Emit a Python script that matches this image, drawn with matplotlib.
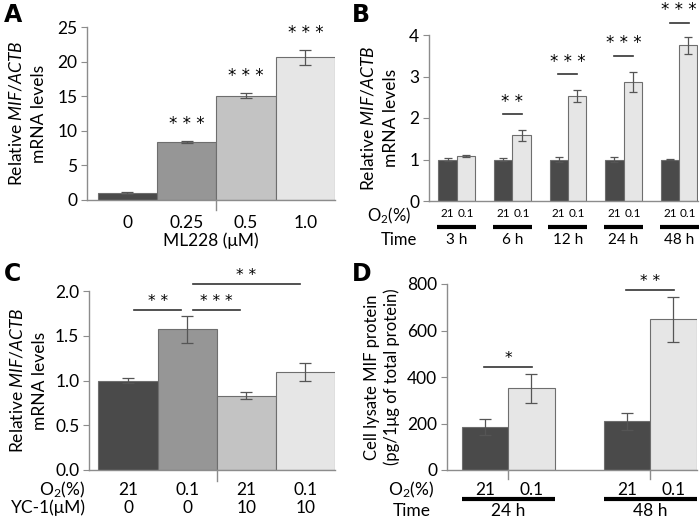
import matplotlib
matplotlib.use("Agg")
import matplotlib.pyplot as plt
import matplotlib.transforms as mtransforms
from matplotlib.lines import Line2D

plt.rcParams['font.family'] = ['Lato', 'DejaVu Sans']
plt.rcParams['mathtext.fontset'] = 'custom'
plt.rcParams['mathtext.rm'] = 'Lato'
plt.rcParams['mathtext.it'] = 'Lato:italic'
plt.rcParams['mathtext.bf'] = 'Lato:bold'

# ---------------- data ----------------
a_labels = ['0', '0.25', '0.5', '1.0']
a_values = [1.0, 8.4, 15.1, 20.6]
a_errors = [0.1, 0.12, 0.3, 1.1]
a_stars = ['', '***', '***', '***']

b_times = ['3 h', '6 h', '12 h', '24 h', '48 h']
b_normoxia = [1.0, 1.0, 1.0, 1.0, 1.0]
b_normoxia_err = [0.03, 0.03, 0.05, 0.05, 0.02]
b_hypoxia = [1.08, 1.58, 2.53, 2.87, 3.75]
b_hypoxia_err = [0.03, 0.14, 0.15, 0.25, 0.2]
b_stars = ['', '**', '***', '***', '***']
b_sig_y = [None, 2.1, 3.05, 3.5, 4.3]

c_o2 = ['21', '0.1', '21', '0.1']
c_yc1 = ['0', '0', '10', '10']
c_values = [1.0, 1.57, 0.83, 1.1]
c_errors = [0.03, 0.15, 0.04, 0.1]

d_times = ['24 h', '48 h']
d_normoxia = [185, 210]
d_normoxia_err = [35, 36]
d_hypoxia = [352, 648]
d_hypoxia_err = [62, 97]
d_stars = ['*', '**']
d_sig_y = [443, 774]

# ---------------- style ----------------
DARK = '#4a4a4a'
MID = '#969696'
LIGHT = '#c3c3c3'
LIGHTEST = '#e6e6e6'
EDGE = '#6e6e6e'
SPINE = '#8c8c8c'
ERR = dict(ecolor='#555555', elinewidth=0.9, capsize=4, capthick=0.9)
FS = 12.5
TS = 12.5
W, H = 700, 521

fig = plt.figure(figsize=(7, 5.21), dpi=100)


def axes_px(l, r, b, t):
    return fig.add_axes([l / W, 1 - b / H, (r - l) / W, (b - t) / H])


def style(ax):
    for s in ['top', 'right']:
        ax.spines[s].set_visible(False)
    for s in ['left', 'bottom']:
        ax.spines[s].set_color(SPINE)
        ax.spines[s].set_linewidth(1.0)
    ax.tick_params(axis='y', direction='out', length=4, color=SPINE, labelsize=TS, pad=3)
    ax.tick_params(axis='x', length=0, labelsize=TS)


def stars(ax, x, y, s, fs=12):
    ax.text(x, y, ' '.join(s) if s else '', ha='center', va='bottom', fontsize=fs,
            family='DejaVu Sans', clip_on=False)


YLAB = 'Relative $\\it{MIF/ACTB}$\nmRNA levels'

# ---------------- Panel A ----------------
axA = axes_px(87, 335, 200, 27)
style(axA)
xa = list(range(len(a_values)))
axA.bar(xa, a_values, width=1.0, color=[DARK, MID, LIGHT, LIGHTEST], edgecolor=EDGE,
        linewidth=0.8, yerr=a_errors, error_kw=ERR, zorder=2)
for x, v, e, s in zip(xa, a_values, a_errors, a_stars):
    if s:
        stars(axA, x, v + e + 1.2, s)
axA.set_xlim(-0.68, 3.5)
axA.set_ylim(0, 25)
axA.set_yticks([0, 5, 10, 15, 20, 25])
axA.set_xticks(xa)
axA.set_xticklabels(a_labels)
axA.tick_params(axis='x', pad=11)
axA.set_xlabel('ML228 (μM)', fontsize=FS, labelpad=1)
axA.set_ylabel(YLAB, fontsize=FS, labelpad=7, linespacing=1.5)
axA.add_line(Line2D([1.5, 1.5], [0, -0.06], transform=mtransforms.blended_transform_factory(axA.transData, axA.transAxes),
                    color=SPINE, lw=1, clip_on=False))

# ---------------- Panel B ----------------
axB = axes_px(429, 698, 201, 35)
style(axB)
bw = 0.33
xb = list(range(len(b_times)))
axB.bar([x - bw / 2 for x in xb], b_normoxia, width=bw, color=DARK, edgecolor=EDGE, linewidth=0.8,
        yerr=b_normoxia_err, error_kw=dict(ERR, capsize=3), zorder=2)
axB.bar([x + bw / 2 for x in xb], b_hypoxia, width=bw, color=LIGHTEST, edgecolor=EDGE, linewidth=0.8,
        yerr=b_hypoxia_err, error_kw=dict(ERR, capsize=3), zorder=2)
axB.set_xlim(-0.5, 4.34)
axB.set_ylim(0, 4)
axB.set_yticks([0, 1, 2, 3, 4])
axB.set_xticks([])
axB.set_ylabel(YLAB, fontsize=FS, labelpad=7, linespacing=1.5)
tB = mtransforms.blended_transform_factory(axB.transData, axB.transAxes)
for x, s, ys in zip(xb, b_stars, b_sig_y):
    if s:
        axB.add_line(Line2D([x - 0.17, x + 0.17], [ys, ys], color='#333333', lw=1.2, clip_on=False))
        stars(axB, x, ys + 0.08, s)
for x, t in zip(xb, b_times):
    axB.text(x - bw / 2, -0.075, '21', transform=tB, ha='center', va='center', fontsize=8.5)
    axB.text(x + bw / 2, -0.075, '0.1', transform=tB, ha='center', va='center', fontsize=8.5)
    axB.add_line(Line2D([x - bw - 0.02, x + bw + 0.02], [-0.157, -0.157], transform=tB,
                        color='black', lw=3, solid_capstyle='butt', clip_on=False))
    axB.text(x, -0.235, t, transform=tB, ha='center', va='center', fontsize=11)
axB.text(-0.83, -0.09, 'O$_2$(%)', transform=tB, ha='right', va='center', fontsize=12)
axB.text(-0.72, -0.235, 'Time', transform=tB, ha='right', va='center', fontsize=12)

# ---------------- Panel C ----------------
axC = axes_px(89, 335, 470, 291)
style(axC)
xc = list(range(len(c_values)))
axC.bar(xc, c_values, width=1.0, color=[DARK, MID, LIGHT, LIGHTEST], edgecolor=EDGE,
        linewidth=0.8, yerr=c_errors, error_kw=ERR, zorder=2)
axC.set_xlim(-0.66, 3.5)
axC.set_ylim(0, 2.0)
axC.set_yticks([0, 0.5, 1.0, 1.5, 2.0])
axC.set_yticklabels(['0.0', '0.5', '1.0', '1.5', '2.0'])
axC.set_xticks([])
axC.set_ylabel(YLAB, fontsize=FS, labelpad=5, linespacing=1.5)
for (x0, x1, y, s) in [(0.1, 0.9, 1.79, '**'), (1.1, 1.9, 1.79, '***'), (1.1, 2.9, 2.08, '**')]:
    axC.add_line(Line2D([x0, x1], [y, y], color='#333333', lw=1.2, clip_on=False))
    stars(axC, (x0 + x1) / 2, y + 0.01, s, fs=11)
tC = mtransforms.blended_transform_factory(axC.transData, axC.transAxes)
for x, o, yc in zip(xc, c_o2, c_yc1):
    axC.text(x, -0.112, o, transform=tC, ha='center', va='center', fontsize=FS)
    axC.text(x, -0.212, yc, transform=tC, ha='center', va='center', fontsize=FS)
axC.text(-0.72, -0.112, 'O$_2$(%)', transform=tC, ha='right', va='center', fontsize=FS)
axC.text(-0.72, -0.212, 'YC-1(μM)', transform=tC, ha='right', va='center', fontsize=FS)
axC.add_line(Line2D([1.5, 1.5], [0, -0.06], transform=tC, color=SPINE, lw=1, clip_on=False))

# ---------------- Panel D ----------------
axD = axes_px(447, 697, 470, 284)
style(axD)
dw = 0.327
xd = list(range(len(d_times)))
axD.bar([x - dw / 2 for x in xd], d_normoxia, width=dw, color=DARK, edgecolor=EDGE, linewidth=0.8,
        yerr=d_normoxia_err, error_kw=ERR, zorder=2)
axD.bar([x + dw / 2 for x in xd], d_hypoxia, width=dw, color=LIGHTEST, edgecolor=EDGE, linewidth=0.8,
        yerr=d_hypoxia_err, error_kw=ERR, zorder=2)
axD.set_xlim(-0.43, 1.33)
axD.set_ylim(0, 800)
axD.set_yticks([0, 200, 400, 600, 800])
axD.set_xticks([])
axD.set_ylabel('Cell lysate MIF protein\n(pg/1μg of total protein)', fontsize=12, labelpad=5,
               linespacing=1.3)
tD = mtransforms.blended_transform_factory(axD.transData, axD.transAxes)
for x, s, ys in zip(xd, d_stars, d_sig_y):
    axD.add_line(Line2D([x - 0.17, x + 0.17], [ys, ys], color='#333333', lw=1.2, clip_on=False))
    stars(axD, x, ys + 5, s, fs=11)
for x, t in zip(xd, d_times):
    axD.text(x - dw / 2, -0.105, '21', transform=tD, ha='center', va='center', fontsize=FS)
    axD.text(x + dw / 2, -0.105, '0.1', transform=tD, ha='center', va='center', fontsize=FS)
    axD.add_line(Line2D([x - dw, x + dw], [-0.156, -0.156], transform=tD,
                        color='black', lw=3, solid_capstyle='butt', clip_on=False))
    axD.text(x, -0.222, t, transform=tD, ha='center', va='center', fontsize=FS)
    axD.add_line(Line2D([x, x], [0, -0.05], transform=tD, color=SPINE, lw=1, clip_on=False))
axD.text(-0.68, -0.105, 'O$_2$(%)', transform=tD, ha='center', va='center', fontsize=FS)
axD.text(-0.68, -0.222, 'Time', transform=tD, ha='center', va='center', fontsize=FS)

# ---------------- panel letters ----------------
for lab, x, y in [('A', 4, 3), ('B', 352, 3), ('C', 4, 262), ('D', 352, 262)]:
    fig.text(x / W, 1 - y / H, lab, fontsize=17, fontweight='bold', ha='left', va='top',
             family='DejaVu Sans')

fig.savefig('out.png', dpi=100)
